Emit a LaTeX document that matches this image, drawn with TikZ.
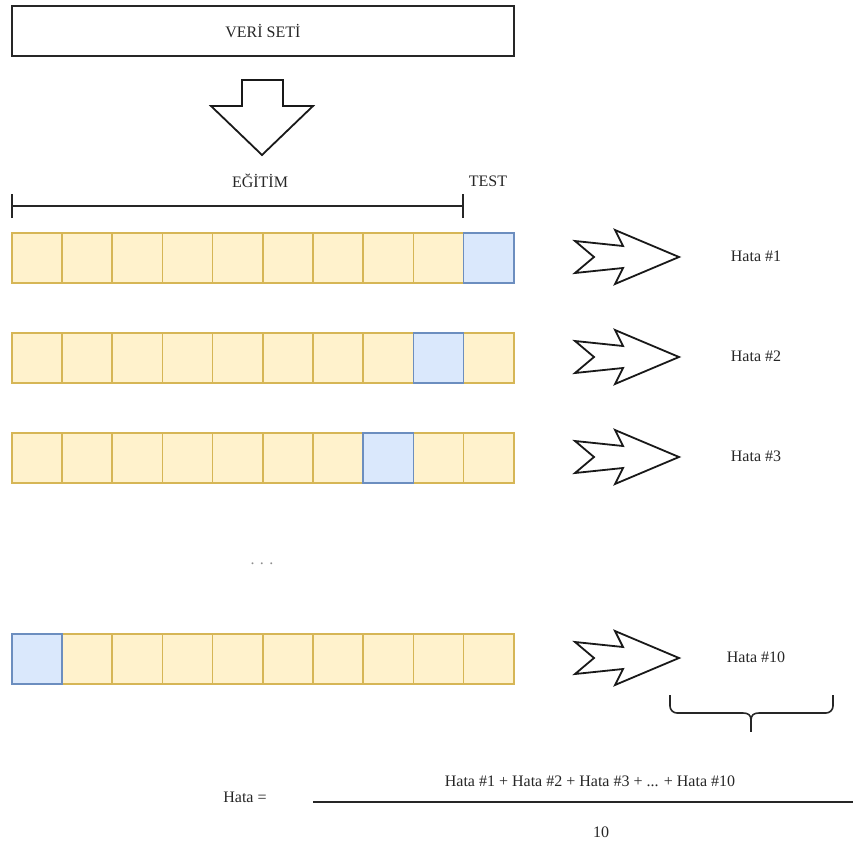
\documentclass[tikz,border=0pt]{standalone}
\usepackage{fontspec}
\setmainfont{Liberation Serif}
\begin{document}
\begin{tikzpicture}[x=1pt,y=-1pt,
  txt/.style={text=black!85, font=\fontsize{16}{19}\selectfont, inner sep=0pt},
  heavy/.style={draw=black!85, line width=1.8pt},
  outline/.style={draw=black!90, line width=1.8pt, line join=miter, fill=white},
  ycell/.style={draw={rgb,255:red,214;green,182;blue,86}, fill={rgb,255:red,255;green,242;blue,204}, line width=1.5pt, minimum width=50.2pt, minimum height=50pt, inner sep=0pt, anchor=north west},
  bcell/.style={draw={rgb,255:red,108;green,142;blue,191}, fill={rgb,255:red,218;green,232;blue,252}, line width=1.5pt, minimum width=50.2pt, minimum height=50pt, inner sep=0pt, anchor=north west},
  chev/.pic={\draw[outline] (0,0) -- (-64,-27) -- (-56,-11) -- (-104,-16) -- (-85,0) -- (-104,16) -- (-56,11) -- (-64,27) -- cycle;}
]
\useasboundingbox (0,0) rectangle (853,843);

% dataset box
\node[heavy, minimum width=502pt, minimum height=50pt, inner sep=0pt, anchor=north west] (veri) at (11,5) {};
\node[txt] (veritxt) at (veri.center) {VERİ SETİ};

% big down arrow
\draw[outline] (242,80) -- (283,80) -- (283,106) -- (313,106) -- (262,155) -- (211,106) -- (242,106) -- cycle;

% labels
\node[txt] (egitim) at (260,181) {EĞİTİM};
\node[txt] (test) at (488,181) {TEST};

% training bracket
\coordinate (bl) at (12,206);
\coordinate (br) at (463,206);
\draw[heavy] (bl) -- (br);
\draw[heavy] ([yshift=-12pt]bl) -- ([yshift=12pt]bl);
\draw[heavy] ([yshift=-12pt]br) -- ([yshift=12pt]br);

% rows of folds
\foreach \r/\y/\b in {1/232/10, 2/332/9, 3/432/8, 10/633/1}{
  \foreach \i in {1,...,10}{
    \node[ycell] (c\r-\i) at ({11+50.2*(\i-1)},\y) {};
  }
  \node[bcell] (t\r) at ({11+50.2*(\b-1)},\y) {};
  \pic at (679,{\y+25}) {chev};
  \node[txt] (h\r) at (756,{\y+24}) {Hata \#\r};
}

% dots
\node[txt, text=black!45] (dots) at (262,564) {. . .};

% brace
\coordinate (bra) at (751,732);
\draw[heavy, line width=1.6pt, rounded corners=7pt] (670,695) -- (670,713) -- (735,713);
\draw[heavy, line width=1.6pt, rounded corners=7pt] (833,695) -- (833,713) -- (767,713);
\draw[heavy, line width=1.6pt] (735,713) -- (743,713) .. controls (748,713) and (751,715) .. (751,720) .. controls (751,715) and (754,713) .. (759,713) -- (767,713);
\draw[heavy, line width=1.6pt] (751,720) -- (bra);

% formula
\node[txt] (hata) at (245,797) {Hata =};
\coordinate (fl) at (313,802);
\coordinate (fr) at (853,802);
\draw[heavy, line width=2pt] (fl) -- (fr);
\node[txt] (num) at (590,781) {Hata \#1 + Hata \#2 + Hata \#3 + ... + Hata \#10};
\node[txt] (den) at (601,832) {10};
\end{tikzpicture}
\end{document}
